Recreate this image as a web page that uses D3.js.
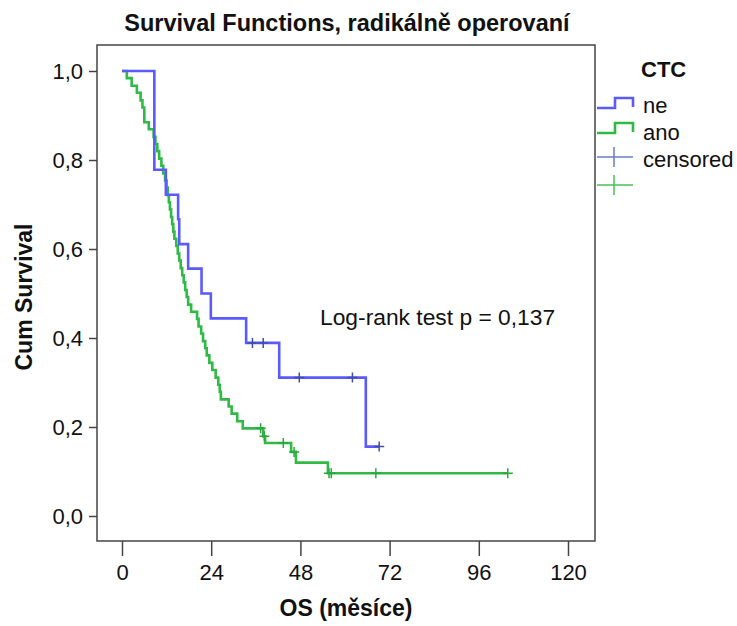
<!DOCTYPE html>
<html>
<head>
<meta charset="utf-8">
<script src="https://cdn.jsdelivr.net/npm/d3@7"></script>
<style>
  body { margin: 0; background: #fff; }
  text { font-family: "Liberation Sans", Arial, sans-serif; fill: #111; }
</style>
</head>
<body>
<script>
// Kaplan-Meier steps: time (months) and survival after each drop
const neTimes = [0, 8.7, 11.8, 15.1, 15.4, 17.8, 21.4, 23.9, 33.4, 42.3, 65.6];
const neSurv  = [1, 0.778, 0.722, 0.667, 0.611, 0.556, 0.5, 0.444, 0.389, 0.311, 0.156];
const neEnd = 69.2;
const neCensored = [35.1, 38.0, 47.7, 62.0, 69.2];

const anoTimes = [0, 1.3, 2.6, 4.0, 5.0, 5.5, 6.0, 7.2, 8.5, 9.0, 9.5, 10.0, 10.6, 11.1, 11.6,
  12.0, 12.3, 12.6, 12.9, 13.2, 13.5, 13.8, 14.1, 14.6, 15.0, 15.4, 15.8, 16.2, 16.6, 17.0,
  17.4, 17.8, 18.6, 20.2, 20.6, 21.3, 21.8, 22.4, 22.8, 23.5, 24.3, 25.2, 25.9, 26.3, 26.6,
  28.7, 29.5, 31.0, 32.5, 38.0, 38.5, 45.5, 46.8, 55.4];
const anoSurv  = [1, 0.984, 0.967, 0.951, 0.934, 0.918, 0.885, 0.869, 0.852, 0.836, 0.820, 0.803, 0.787, 0.770, 0.754,
  0.738, 0.721, 0.705, 0.689, 0.672, 0.656, 0.639, 0.623, 0.607, 0.590, 0.574, 0.557, 0.541, 0.525, 0.508,
  0.492, 0.475, 0.459, 0.443, 0.426, 0.410, 0.393, 0.377, 0.361, 0.344, 0.328, 0.311, 0.295, 0.279, 0.262,
  0.246, 0.230, 0.213, 0.197, 0.179, 0.164, 0.144, 0.120, 0.096];
const anoEnd = 103.8;
const anoCensored = [37.3, 38.3, 43.4, 46.3, 55.7, 56.3, 68.3, 103.8];

const xTicks = [0, 24, 48, 72, 96, 120];
const yTicks = [0, 0.2, 0.4, 0.6, 0.8, 1.0];
const groups = ['ne', 'ano'];

const width = 737, height = 626;
const frame = { left: 97, right: 595, top: 45, bottom: 541 };
const colors = { ne: '#5a5aff', ano: '#2fba45' };
const censorColors = { ne: '#3f4fa6', ano: '#2aa83e' };

const svg = d3.select('body').append('svg')
  .attr('width', width)
  .attr('height', height);

const x = d3.scaleLinear().domain([0, 120]).range([122, 568]);
const y = d3.scaleLinear().domain([0, 1]).range([516, 71]);

const fmt = d => d3.format('.1f')(d).replace('.', ',');

// frame
svg.append('rect')
  .attr('x', frame.left).attr('y', frame.top)
  .attr('width', frame.right - frame.left)
  .attr('height', frame.bottom - frame.top)
  .attr('fill', 'none')
  .attr('stroke', '#444')
  .attr('stroke-width', 1.5);

// axes
const yAxis = svg.append('g')
  .attr('transform', `translate(${frame.left},0)`)
  .call(d3.axisLeft(y).tickValues(yTicks).tickFormat(fmt).tickSize(8).tickSizeOuter(0).tickPadding(6));

const xAxis = svg.append('g')
  .attr('transform', `translate(0,${frame.bottom})`)
  .call(d3.axisBottom(x).tickValues(xTicks).tickSize(15).tickSizeOuter(0).tickPadding(8));

[xAxis, yAxis].forEach(a => {
  a.select('.domain').remove();
  a.selectAll('.tick line').attr('stroke', '#444').attr('stroke-width', 1.5);
  a.selectAll('.tick text')
    .attr('font-family', '"Liberation Sans", Arial, sans-serif')
    .attr('font-size', 22)
    .attr('fill', '#222');
});

// survival curves
const line = d3.line()
  .x(d => x(d[0]))
  .y(d => y(d[1]))
  .curve(d3.curveStepAfter);

function stepPoints(times, surv, end) {
  const pts = times.map((t, i) => [t, surv[i]]);
  pts.push([end, surv[surv.length - 1]]);
  return pts;
}

function survAt(times, surv, t) {
  const i = d3.bisectRight(times, t) - 1;
  return surv[Math.max(0, i)];
}

const series = {
  ne: { times: neTimes, surv: neSurv, end: neEnd, cens: neCensored },
  ano: { times: anoTimes, surv: anoSurv, end: anoEnd, cens: anoCensored }
};

['ano', 'ne'].forEach(g => {
  const s = series[g];
  svg.append('path')
    .datum(stepPoints(s.times, s.surv, s.end))
    .attr('fill', 'none')
    .attr('stroke', colors[g])
    .attr('stroke-width', 2.6)
    .attr('d', line);
});

['ano', 'ne'].forEach(g => {
  const s = series[g];
  svg.append('g').selectAll('path')
    .data(s.cens)
    .enter()
    .append('path')
    .attr('d', t => {
      const cx = x(t), cy = y(survAt(s.times, s.surv, t));
      return `M${cx - 5},${cy}H${cx + 5}M${cx},${cy - 5}V${cy + 5}`;
    })
    .attr('stroke', censorColors[g])
    .attr('stroke-width', 1.5);
});

// titles
svg.append('text')
  .attr('x', 347).attr('y', 31)
  .attr('text-anchor', 'middle')
  .attr('font-size', 23.5)
  .attr('font-weight', 'bold')
  .text('Survival Functions, radikálně operovaní');

svg.append('text')
  .attr('x', 346).attr('y', 616)
  .attr('text-anchor', 'middle')
  .attr('font-size', 23)
  .attr('font-weight', 'bold')
  .text('OS (měsíce)');

svg.append('text')
  .attr('transform', 'translate(32,297) rotate(-90)')
  .attr('text-anchor', 'middle')
  .attr('font-size', 23)
  .attr('font-weight', 'bold')
  .text('Cum Survival');

svg.append('text')
  .attr('x', 320).attr('y', 325)
  .attr('font-size', 22.8)
  .text('Log-rank test p = 0,137');

// legend
const legend = svg.append('g');
legend.append('text')
  .attr('x', 641).attr('y', 77)
  .attr('font-size', 22)
  .attr('font-weight', 'bold')
  .text('CTC');

groups.forEach((g, i) => {
  const base = 108 + i * 25;
  legend.append('path')
    .attr('d', `M597,${base}H615V${base - 10}H633V${base - 1}`)
    .attr('fill', 'none')
    .attr('stroke', colors[g])
    .attr('stroke-width', 2.6);
  legend.append('text')
    .attr('x', 643).attr('y', base + 5 + i * 2)
    .attr('font-size', 22)
    .text(g);
});

const legendCensor = [{ g: 'ne', cy: 157, label: 'censored' }, { g: 'ano', cy: 185, label: '' }];
legendCensor.forEach(d => {
  legend.append('path')
    .attr('d', `M597,${d.cy}H633M614,${d.cy - 10}V${d.cy + 10}`)
    .attr('stroke', d.g === 'ne' ? '#6a7ec6' : '#45c255')
    .attr('stroke-width', 1.5);
  legend.append('text')
    .attr('x', 643).attr('y', d.cy + 10)
    .attr('font-size', 22)
    .text(d.label);
});
</script>
</body>
</html>
